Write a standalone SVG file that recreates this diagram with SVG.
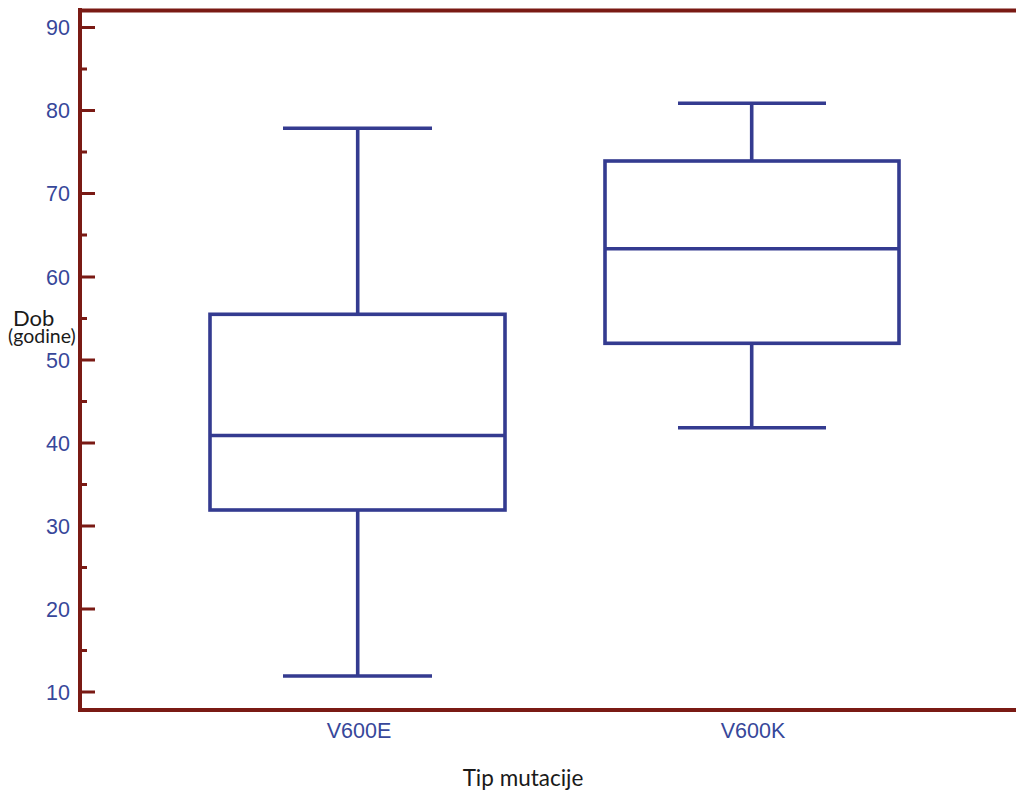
<svg xmlns="http://www.w3.org/2000/svg" width="1016" height="793" viewBox="0 0 1016 793">
<style>
.ax{stroke:#7a1a14;stroke-width:4;fill:none}
.tk{stroke:#7a1a14;stroke-width:3;fill:none}
.bx{stroke:#343b90;stroke-width:3.6;fill:none}
.tl{font-family:"Liberation Sans",Arial,sans-serif;font-size:21.5px;fill:#37479a}
.lb{font-family:Lato,"Open Sans",sans-serif;fill:#1a1a1a}
</style>
<rect width="1016" height="793" fill="#fff"/>
<g id="axes">
<path class="ax" d="M80,8 V712"/>
<path class="ax" d="M78,10.5 H1016"/>
<path class="ax" d="M78,710 H1016"/>
<path class="tk" d="M80,27.5 H95 M80,69 H87 M80,110.5 H95 M80,152 H87 M80,193.5 H95 M80,235 H87 M80,277 H95 M80,318.5 H87 M80,360 H95 M80,401.5 H87 M80,443 H95 M80,484.5 H87 M80,526 H95 M80,567.5 H87 M80,609 H95 M80,650.5 H87 M80,692 H95"/>
</g>
<g id="ytick-labels" text-anchor="end">
<text class="tl" x="70" y="35">90</text>
<text class="tl" x="70" y="118">80</text>
<text class="tl" x="70" y="201">70</text>
<text class="tl" x="70" y="284.5">60</text>
<text class="tl" x="70" y="367.5">50</text>
<text class="tl" x="70" y="450.5">40</text>
<text class="tl" x="70" y="533.5">30</text>
<text class="tl" x="70" y="616.5">20</text>
<text class="tl" x="70" y="699.5">10</text>
</g>
<g id="box-V600E">
<path class="bx" d="M283,128.3 H432 M357.7,128.3 V314.3 M357.7,510 V676 M283,676 H432"/>
<rect class="bx" x="210" y="314.3" width="295" height="195.7"/>
<path class="bx" d="M210,435.5 H505"/>
</g>
<g id="box-V600K">
<path class="bx" d="M678,103.3 H826 M751.7,103.3 V161 M751.7,343.3 V427.7 M678,427.7 H826"/>
<rect class="bx" x="605" y="161" width="294" height="182.3"/>
<path class="bx" d="M605,248.7 H899"/>
</g>
<g id="xtick-labels" text-anchor="middle">
<text class="tl" x="359" y="737.5">V600E</text>
<text class="tl" x="753" y="737.5">V600K</text>
</g>
<g id="axis-titles">
<text class="lb" x="523" y="786" font-size="22.5" text-anchor="middle">Tip mutacije</text>
<text class="lb" x="13" y="326" font-size="22">Dob</text>
<text class="lb" x="8" y="343" font-size="19.5">(godine)</text>
</g>
</svg>
